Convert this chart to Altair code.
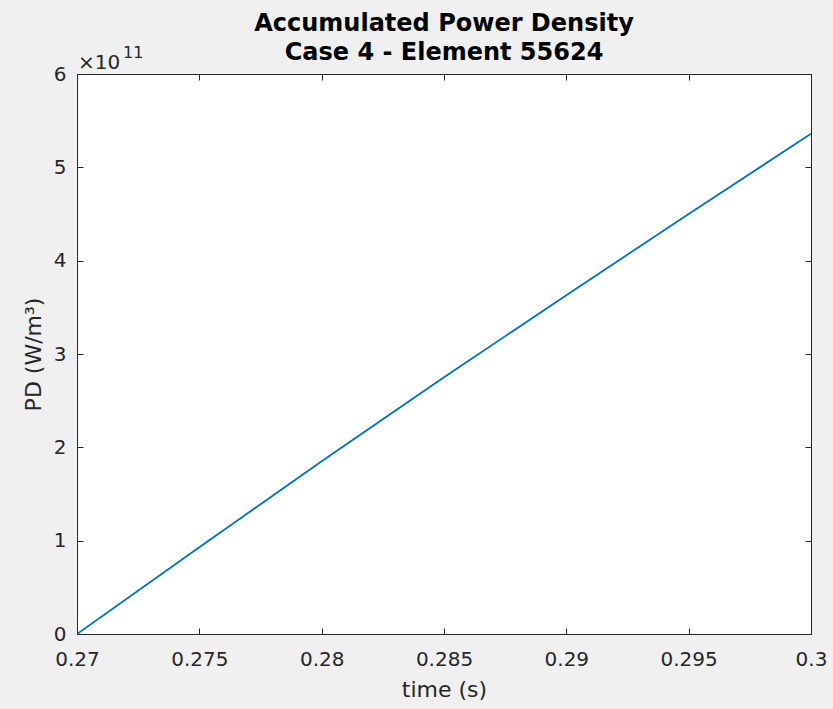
import altair as alt
import pandas as pd

# ---- data ----
time_s = [0.27, 0.275, 0.28, 0.285, 0.29, 0.295, 0.3]
pd_e11 = [0.0, 0.93, 1.85, 2.75, 3.63, 4.50, 5.36]   # PD in units of 1e11 W/m^3
x_ticks = [0.27, 0.275, 0.28, 0.285, 0.29, 0.295, 0.3]
y_ticks = [0, 1, 2, 3, 4, 5, 6]
title_lines = ["Accumulated Power Density", "Case 4 - Element 55624"]
x_title = "time (s)"
y_title = "PD (W/m³)"
exp_base = "×10"
exp_power = "11"

df = pd.DataFrame({"t": time_s, "pd": pd_e11})

AX = "#262626"
FONT = "DejaVu Sans"
W, H = 734, 560

xscale = alt.Scale(domain=[0.27, 0.3], nice=False, zero=False)
yscale = alt.Scale(domain=[0, 6], nice=False)

tick_in = {"expr": "-6"}

line = alt.Chart(df).mark_line(color="#0072BD", strokeWidth=1.8, clip=True).encode(
    x=alt.X("t:Q", scale=xscale,
            axis=alt.Axis(values=x_ticks, format=".3~f", orient="bottom", title=x_title,
                          grid=False, tickSize=tick_in, labelPadding=21, titlePadding=10,
                          labelFlush=False)),
    y=alt.Y("pd:Q", scale=yscale,
            axis=alt.Axis(values=y_ticks, format="d", orient="left", title=y_title,
                          grid=False, tickSize=tick_in, labelPadding=17, titlePadding=8,
                          labelFlush=False)),
)

mirror = alt.Chart(df).mark_line(opacity=0).encode(
    x=alt.X("t:Q", scale=xscale,
            axis=alt.Axis(values=x_ticks, orient="top", labels=False, title=None,
                          grid=False, tickSize=tick_in)),
    y=alt.Y("pd:Q", scale=yscale,
            axis=alt.Axis(values=y_ticks, orient="right", labels=False, title=None,
                          grid=False, tickSize=tick_in)),
)

exp_df = pd.DataFrame({"a": [exp_base], "b": [exp_power]})
exp1 = alt.Chart(exp_df).mark_text(align="left", baseline="alphabetic", fontSize=20,
                                   font=FONT, color=AX).encode(
    text="a:N", x=alt.value(1), y=alt.value(-5))
exp2 = alt.Chart(exp_df).mark_text(align="left", baseline="alphabetic", fontSize=16,
                                   font=FONT, color=AX).encode(
    text="b:N", x=alt.value(46), y=alt.value(-16))

chart = alt.layer(line, mirror, exp1, exp2).resolve_axis(
    x="independent", y="independent"
).properties(
    width=W, height=H,
    title=alt.TitleParams(title_lines, fontSize=24, fontWeight="bold", font=FONT,
                          color="#000000", anchor="middle", offset=0, dy=20, lineHeight=29),
    autosize=alt.AutoSizeParams(type="none"),
    padding={"left": 77, "top": 74, "right": 22, "bottom": 75},
    background="#f0f0f0",
).configure_view(
    fill="white", stroke=None
).configure_axis(
    domainColor=AX, tickColor=AX, labelColor=AX, titleColor=AX,
    labelFont=FONT, titleFont=FONT, labelFontSize=20, titleFontSize=22,
    titleFontWeight="normal", domainWidth=1, tickWidth=1,
)

chart.save("out.html", embed_options={"renderer": "svg", "actions": False})
